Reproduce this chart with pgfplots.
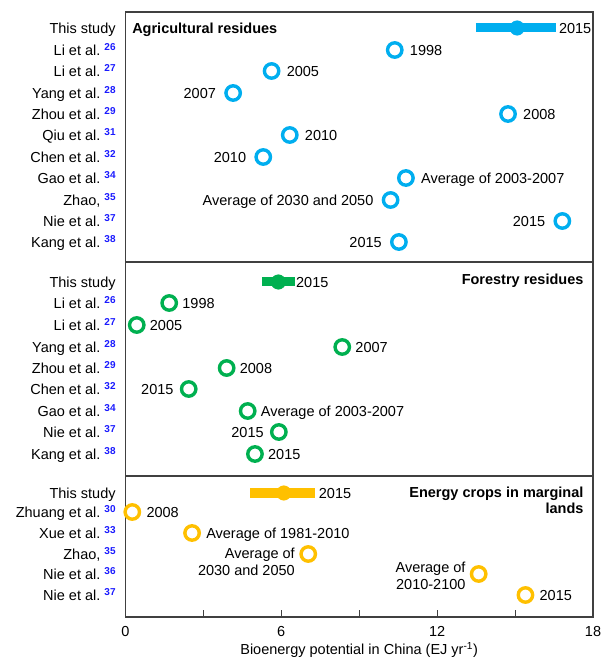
\documentclass[border=0pt]{standalone}
\usepackage{pgfplots}
\pgfplotsset{compat=1.18}
\usepackage{fontspec}
\setmainfont{Liberation Sans}
\definecolor{cy}{RGB}{0,174,239}
\definecolor{gr}{RGB}{0,176,80}
\definecolor{ye}{RGB}{255,192,0}
\definecolor{refb}{RGB}{26,26,255}
\definecolor{frame}{RGB}{64,64,64}
\newcommand\lab{\fontsize{14.5}{17}\selectfont}
\newcommand\ttl{\fontsize{14.5}{17}\selectfont\bfseries}
\newcommand\rf[1]{\ \raisebox{5pt}{\fontsize{10}{10}\selectfont\bfseries\color{refb}#1}}
\tikzset{txt/.style={inner sep=0pt, yshift=-5.2pt, font=\lab}}
\pgfplotsset{
  panel/.style={scale only axis, width=467.7pt, xmin=0, xmax=18, y dir=reverse,
    anchor=south west, clip=false,
    axis line style={frame, line width=1.1pt},
    ytick style={draw=none},
    yticklabel style={font=\lab, inner sep=0pt, anchor=base east, xshift=-9.5pt, yshift=-5.2pt},
    /pgf/number format/assume math mode=true},
  ring/.style={only marks, mark=o, mark size=7.2pt, mark options={line width=3.4pt, draw=#1, fill=white}, color=#1},
  rlab/.style={point meta=explicit symbolic, nodes near coords,
    every node near coord/.append style={anchor=base west, xshift=#1, yshift=-5.2pt, inner sep=0pt, text=black, font=\lab}},
  llab/.style={point meta=explicit symbolic, nodes near coords,
    every node near coord/.append style={anchor=base east, xshift=-#1, yshift=-5.2pt, inner sep=0pt, text=black, font=\lab}},
}
\begin{document}
\begin{tikzpicture}
% ---------------- Agricultural residues ----------------
\begin{axis}[panel, at={(125.3pt,397pt)}, height=250pt, ymin=12, ymax=262,
  xtick=\empty,
  ytick={28,50,71,93,114,135,157,178,200,221,242},
  yticklabels={This study, Li et al.\rf{26}, Li et al.\rf{27}, Yang et al.\rf{28}, Zhou et al.\rf{29}, Qiu et al.\rf{31}, Chen et al.\rf{32}, Gao et al.\rf{34}, {Zhao,\rf{35}}, Nie et al.\rf{37}, Kang et al.\rf{38}}]
\addplot[cy, line width=9pt, forget plot] coordinates {(13.49,28) (16.57,28)};
\addplot[only marks, mark=*, mark size=7.3pt, cy] coordinates {(15.08,28)};
\node[txt, anchor=base west, xshift=3pt] at (axis cs:16.57,28) {2015};
\addplot[ring=cy, rlab=13.5pt] coordinates {(10.37,50)[1998] (5.63,71)[2005] (14.73,114)[2008] (6.33,135)[2010] (10.80,178)[Average of 2003-2007]};
\addplot[ring=cy, llab=15.5pt] coordinates {(4.15,93)[2007] (5.31,157)[2010] (10.21,200)[Average of 2030 and 2050] (16.82,221)[2015] (10.53,242)[2015]};
\node[anchor=base west, inner sep=0pt, yshift=-5.2pt, font=\ttl] at (axis cs:0.26,28) {Agricultural residues};
\end{axis}
% ---------------- Forestry residues ----------------
\begin{axis}[panel, at={(125.3pt,183pt)}, height=214pt, ymin=262, ymax=476,
  xtick=\empty,
  ytick={282,303,325,347,368,389,411,432,454},
  yticklabels={This study, Li et al.\rf{26}, Li et al.\rf{27}, Yang et al.\rf{28}, Zhou et al.\rf{29}, Chen et al.\rf{32}, Gao et al.\rf{34}, Nie et al.\rf{37}, Kang et al.\rf{38}}]
\addplot[gr, line width=9pt, forget plot] coordinates {(5.27,282) (6.53,282)};
\addplot[only marks, mark=*, mark size=7.3pt, gr] coordinates {(5.89,282)};
\node[txt, anchor=base west, xshift=1pt] at (axis cs:6.53,282) {2015};
\addplot[ring=gr, rlab=11.5pt] coordinates {(1.69,303)[1998] (0.44,325)[2005] (8.35,347)[2007] (3.90,368)[2008] (4.71,411)[Average of 2003-2007] (4.99,454)[2015]};
\addplot[ring=gr, llab=13.5pt] coordinates {(2.44,389)[2015] (5.91,432)[2015]};
\node[anchor=base east, inner sep=0pt, yshift=-5.2pt, font=\ttl] at (axis cs:17.64,279) {Forestry residues};
\end{axis}
% ---------------- Energy crops ----------------
\begin{axis}[panel, at={(125.3pt,42pt)}, height=141pt, ymin=476, ymax=617,
  xtick={0,6,12,18}, minor xtick={3,9,15}, xtick pos=bottom, tick align=inside,
  major tick length=7pt, minor tick length=7pt,
  xtick style={frame, line width=1.1pt},
  xticklabel style={font=\lab, yshift=-6pt},
  xlabel={Bioenergy potential in China (EJ yr\textsuperscript{-1})},
  xlabel style={font=\lab, yshift=1.5pt},
  ytick={493,512,533,554,574,595},
  yticklabels={This study, Zhuang et al.\rf{30}, Xue et al.\rf{33}, {Zhao,\rf{35}}, Nie et al.\rf{36}, Nie et al.\rf{37}}]
\addplot[ye, line width=9pt, forget plot] coordinates {(4.80,493) (7.29,493)};
\addplot[only marks, mark=*, mark size=7.3pt, ye] coordinates {(6.10,493)};
\node[txt, anchor=base west, xshift=4pt] at (axis cs:7.29,493) {2015};
\addplot[ring=ye, rlab=12.5pt] coordinates {(0.27,512)[2008] (2.57,533)[Average of 1981-2010] (15.40,595)[2015]};
\addplot[ring=ye] coordinates {(7.04,554) (13.60,574)};
\node[txt, anchor=base east] at (axis cs:6.53,553) {Average of};
\node[txt, anchor=base east] at (axis cs:6.53,570) {2030 and 2050};
\node[txt, anchor=base east] at (axis cs:13.10,567) {Average of};
\node[txt, anchor=base east] at (axis cs:13.10,584) {2010-2100};
\node[anchor=base east, inner sep=0pt, yshift=-5.2pt, font=\ttl] at (axis cs:17.64,492) {Energy crops in marginal};
\node[anchor=base east, inner sep=0pt, yshift=-5.2pt, font=\ttl] at (axis cs:17.64,508.5) {lands};
\end{axis}
\pgfresetboundingbox
\useasboundingbox (0,0) rectangle (607pt,659pt);
\end{tikzpicture}
\end{document}
